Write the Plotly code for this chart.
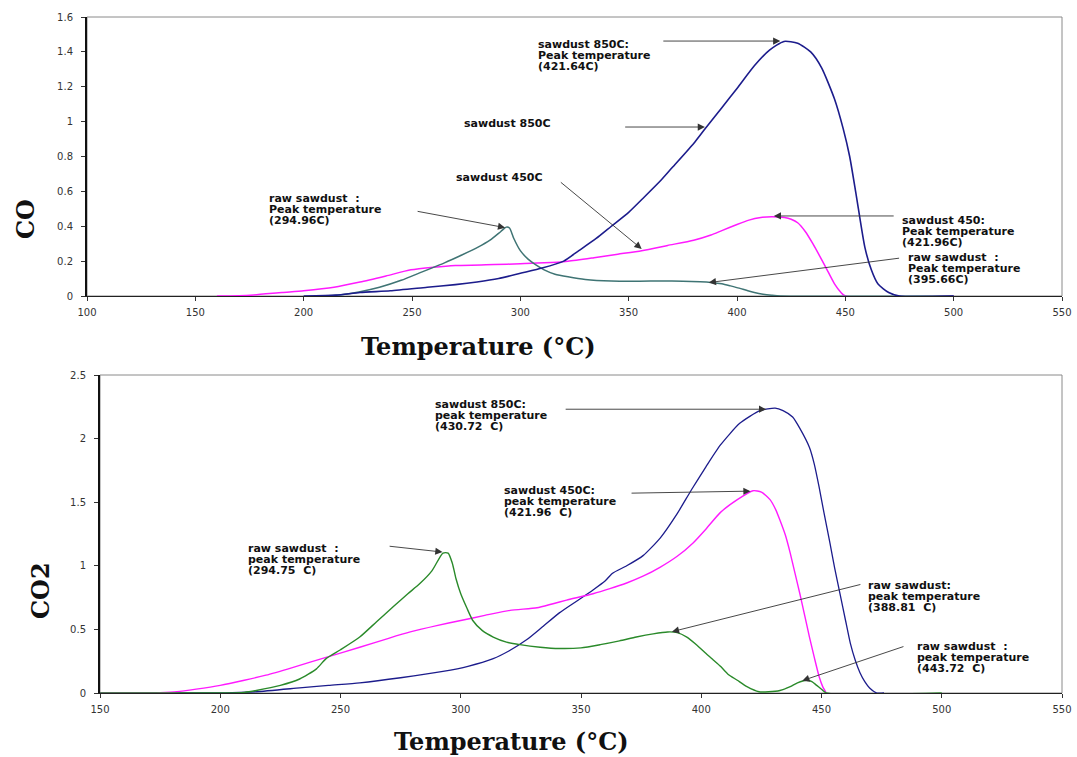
import plotly.graph_objects as go

# ---------------- data: CO (top panel) ----------------
co_850_T = [200, 215, 226, 240, 257, 270, 280, 290, 300, 310, 320, 327, 335, 342, 350, 357, 365, 370,
            380, 385, 393, 400, 408, 415, 421.64, 428, 434, 439, 445, 449, 452, 455, 459, 462, 465,
            470, 475, 500]
co_850_v = [0.0, 0.005, 0.02, 0.03, 0.05, 0.065, 0.08, 0.1, 0.13, 0.16, 0.2, 0.26, 0.33, 0.4, 0.48,
            0.565, 0.665, 0.735, 0.875, 0.955, 1.08, 1.19, 1.32, 1.41, 1.46, 1.45, 1.4, 1.31, 1.13, 0.96,
            0.8, 0.58, 0.28, 0.15, 0.07, 0.02, 0.0, 0.0]

co_450_T = [160, 170, 177, 190, 200, 214, 226, 238, 249.5, 260, 270, 288, 300, 311, 322, 334, 345,
            356, 368, 380, 388, 393, 400, 405.5, 411, 416, 421.96, 425, 428, 431.5, 435, 439, 442,
            445, 448, 450, 500]
co_450_v = [0.0, 0.002, 0.006, 0.02, 0.03, 0.05, 0.08, 0.115, 0.15, 0.165, 0.175, 0.18, 0.185, 0.19,
            0.2, 0.22, 0.24, 0.26, 0.29, 0.32, 0.35, 0.375, 0.41, 0.435, 0.45, 0.455, 0.45, 0.44, 0.42,
            0.37, 0.3, 0.21, 0.14, 0.07, 0.02, 0.0, 0.0]

co_raw_T = [205, 215, 226, 235, 245, 255, 265, 273, 280.5, 286, 291, 293.5, 295, 297, 300, 303.7, 307,
            311, 316, 322, 330, 342, 355, 365, 375, 383, 388, 393, 397, 401, 405, 408, 412, 416, 420,
            500]
co_raw_v = [0.0, 0.005, 0.025, 0.05, 0.09, 0.14, 0.19, 0.235, 0.28, 0.32, 0.37, 0.395, 0.39, 0.33,
            0.26, 0.21, 0.18, 0.15, 0.125, 0.11, 0.095, 0.086, 0.085, 0.086, 0.085, 0.082, 0.078,
            0.07, 0.058, 0.045, 0.03, 0.02, 0.01, 0.004, 0.0, 0.0]

# ---------------- data: CO2 (bottom panel) ----------------
co2_raw_T = [150, 200, 210, 215, 225, 233, 240, 244, 250, 258, 265, 272, 278, 283, 288, 292.6, 294.75,
             296.5, 298, 300, 302.5, 305, 309, 313.5, 319, 324.6, 333, 341, 350, 358, 366, 373, 380,
             386, 390, 394, 398, 402, 405, 408, 411, 415, 419, 424, 428, 432.7, 437, 440, 443.72,
             446, 448, 450, 452, 500]
co2_raw_v = [0.0, 0.0, 0.005, 0.02, 0.06, 0.11, 0.19, 0.27, 0.34, 0.44, 0.56, 0.68, 0.78, 0.86, 0.96,
             1.1, 1.1, 1.02, 0.9, 0.78, 0.67, 0.57, 0.49, 0.44, 0.4, 0.38, 0.36, 0.35, 0.355, 0.38,
             0.41, 0.44, 0.465, 0.48, 0.475, 0.44, 0.38, 0.31, 0.26, 0.21, 0.15, 0.1, 0.05, 0.01,
             0.01, 0.02, 0.05, 0.08, 0.1, 0.09, 0.06, 0.03, 0.0, 0.0]

co2_450_T = [150, 166.6, 175, 182, 190, 200, 210, 219, 230, 244, 258, 270, 279, 290, 300, 310, 320.5,
             331.7, 338, 344, 355, 362, 369, 376, 383, 390, 396.6, 402, 408, 415, 421.5, 425, 428.6,
             431, 432.7, 435, 437, 439, 441, 443, 445, 447, 449, 450.5, 452]
co2_450_v = [0.0, 0.0, 0.003, 0.01, 0.03, 0.06, 0.1, 0.14, 0.2, 0.28, 0.36, 0.43, 0.48, 0.53, 0.57,
             0.61, 0.65, 0.67, 0.7, 0.73, 0.78, 0.82, 0.865, 0.92, 0.99, 1.075, 1.18, 1.29, 1.42, 1.52,
             1.59, 1.58, 1.52, 1.44, 1.36, 1.24, 1.1, 0.94, 0.78, 0.61, 0.44, 0.28, 0.13, 0.05, 0.0]

co2_850_T = [150, 200, 205, 215, 233, 245, 258, 275, 292.6, 303, 313.5, 320, 327.5, 334, 341, 348, 355,
             360, 363, 369, 375.8, 383, 390, 396, 402, 408, 416, 424.4, 430.72, 434, 438, 441, 445,
             447, 449, 451, 453.5, 455.5, 457.7, 460, 462, 464, 466, 468, 470, 473, 476]
co2_850_v = [0.0, 0.0, 0.002, 0.01, 0.04, 0.06, 0.08, 0.12, 0.17, 0.21, 0.27, 0.33, 0.42, 0.52, 0.63,
             0.72, 0.81, 0.88, 0.94, 1.0, 1.08, 1.22, 1.41, 1.6, 1.78, 1.95, 2.12, 2.22, 2.24, 2.22,
             2.17, 2.08, 1.93, 1.8, 1.62, 1.42, 1.18, 0.98, 0.78, 0.57, 0.39, 0.26, 0.16, 0.09, 0.04,
             0.0, 0.0]

co_ticks = [0, 0.2, 0.4, 0.6, 0.8, 1, 1.2, 1.4, 1.6]
co2_ticks = [0, 0.5, 1, 1.5, 2, 2.5]
top_x_ticks = [100, 150, 200, 250, 300, 350, 400, 450, 500, 550]
bot_x_ticks = [150, 200, 250, 300, 350, 400, 450, 500, 550]

NAVY = "#1c1c8c"
MAGENTA = "#ff1aff"
TEAL = "#3f7474"
GREEN = "#2a8a2a"

W, H = 1077, 757


def line(color, width):
    return dict(color=color, width=width, shape="spline", smoothing=0.6)


fig = go.Figure()
fig.add_trace(go.Scatter(x=co_450_T, y=co_450_v, mode="lines", line=line(MAGENTA, 1.5),
                         xaxis="x", yaxis="y", showlegend=False))
fig.add_trace(go.Scatter(x=co_raw_T, y=co_raw_v, mode="lines", line=line(TEAL, 1.5),
                         xaxis="x", yaxis="y", showlegend=False))
fig.add_trace(go.Scatter(x=co_850_T, y=co_850_v, mode="lines", line=line(NAVY, 1.6),
                         xaxis="x", yaxis="y", showlegend=False))

fig.add_trace(go.Scatter(x=co2_850_T, y=co2_850_v, mode="lines", line=line(NAVY, 1.3),
                         xaxis="x2", yaxis="y2", showlegend=False))
fig.add_trace(go.Scatter(x=co2_450_T, y=co2_450_v, mode="lines", line=line(MAGENTA, 1.4),
                         xaxis="x2", yaxis="y2", showlegend=False))
fig.add_trace(go.Scatter(x=co2_raw_T, y=co2_raw_v, mode="lines", line=line(GREEN, 1.4),
                         xaxis="x2", yaxis="y2", showlegend=False))

tickfont = dict(family="DejaVu Sans, Arial, sans-serif", size=10, color="#333333")


def xaxis_cfg(domain, rng, ticks, anchor):
    return dict(domain=domain, range=rng, tickvals=ticks, ticks="outside", ticklen=4, tickcolor="#333",
                showgrid=False, zeroline=False, showline=True, linecolor="#222", linewidth=1.2,
                tickfont=tickfont, anchor=anchor, ticklabelstandoff=3, automargin=False)


def yaxis_cfg(domain, rng, ticks, anchor):
    return dict(domain=domain, range=rng, tickvals=ticks, ticks="outside", ticklen=4, tickcolor="#333",
                showgrid=False, zeroline=False, showline=True, linecolor="#111", linewidth=2,
                tickfont=tickfont, anchor=anchor, ticklabelstandoff=6, automargin=False)


fig.update_layout(
    width=W, height=H, autosize=False,
    margin=dict(l=0, r=0, t=0, b=0, pad=0),
    paper_bgcolor="white", plot_bgcolor="white",
    xaxis=xaxis_cfg([87 / W, 1062 / W], [100, 550], top_x_ticks, "y"),
    yaxis=yaxis_cfg([1 - 296 / H, 1 - 17 / H], [0, 1.6], co_ticks, "x"),
    xaxis2=xaxis_cfg([100 / W, 1062 / W], [150, 550], bot_x_ticks, "y2"),
    yaxis2=yaxis_cfg([1 - 693 / H, 1 - 375 / H], [0, 2.5], co2_ticks, "x2"),
)

# plot-area frames (gray top/right border)
for xr, yr in (("x domain", "y domain"), ("x2 domain", "y2 domain")):
    fig.add_shape(type="rect", xref=xr, yref=yr, x0=0, x1=1, y0=0, y1=1,
                  line=dict(color="#8a8a8a", width=1), layer="below")

annfont = dict(family="DejaVu Sans, Arial, sans-serif", size=11, color="#111111", weight="bold")

# text blocks: (axis, x, y of first line middle, lines)
text_blocks = [
    ("", 307.4, 1.445, ["sawdust 850C:", "Peak temperature", "(421.64C)"]),
    ("", 273.1, 0.992, ["sawdust 850C"]),
    ("", 269.4, 0.677, ["sawdust 450C"]),
    ("", 183.3, 0.56, ["raw sawdust  :", "Peak temperature", "(294.96C)"]),
    ("", 475.0, 0.435, ["sawdust 450:", "Peak temperature", "(421.96C)"]),
    ("", 478.2, 0.22, ["raw sawdust  :", "Peak temperature", "(395.66C)"]),
    ("2", 288.5, 2.265, ["sawdust 850C:", "peak temperature", "(430.72  C)"]),
    ("2", 317.2, 1.59, ["sawdust 450C:", "peak temperature", "(421.96  C)"]),
    ("2", 210.7, 1.133, ["raw sawdust  :", "peak temperature", "(294.75  C)"]),
    ("2", 468.5, 0.845, ["raw sawdust:", "peak temperature", "(388.81  C)"]),
    ("2", 488.9, 0.365, ["raw sawdust  :", "peak temperature", "(443.72  C)"]),
]
for ax, x, y, lines in text_blocks:
    for i, txt in enumerate(lines):
        fig.add_annotation(xref="x" + ax, yref="y" + ax, x=x, y=y, text=txt, showarrow=False,
                           xanchor="left", yanchor="middle", yshift=-11 * i, font=annfont)

# arrows: (axis, tail x, tail y, head x, head y)
arrows = [
    ("", 365.3, 1.462, 420.0, 1.462),
    ("", 347.7, 0.969, 385.2, 0.969),
    ("", 318.0, 0.659, 356.0, 0.27),
    ("", 251.9, 0.487, 293.0, 0.392),
    ("", 473.0, 0.459, 417.0, 0.459),
    ("", 475.5, 0.218, 387.0, 0.077),
    ("2", 343.0, 2.231, 427.0, 2.231),
    ("2", 370.4, 1.571, 420.5, 1.587),
    ("2", 269.8, 1.155, 292.4, 1.108),
    ("2", 466.8, 0.856, 387.8, 0.482),
    ("2", 484.7, 0.369, 442.0, 0.097),
]
for ax, tx, ty, hx, hy in arrows:
    fig.add_annotation(xref="x" + ax, yref="y" + ax, axref="x" + ax, ayref="y" + ax,
                       x=hx, y=hy, ax=tx, ay=ty, text="", showarrow=True,
                       arrowhead=2, arrowsize=1.6, arrowwidth=0.9, arrowcolor="#333333", standoff=0)

titlefont = dict(family="DejaVu Serif, Liberation Serif, serif", size=24, color="#111111", weight="bold")
fig.add_annotation(xref="paper", yref="paper", x=478 / W, y=1 - 346 / H, text="Temperature (°C)",
                   showarrow=False, xanchor="center", yanchor="middle", font=titlefont)
fig.add_annotation(xref="paper", yref="paper", x=511 / W, y=1 - 741 / H, text="Temperature (°C)",
                   showarrow=False, xanchor="center", yanchor="middle", font=titlefont)
fig.add_annotation(xref="paper", yref="paper", x=25 / W, y=1 - 219 / H, text="CO", textangle=-90,
                   showarrow=False, xanchor="center", yanchor="middle", font=titlefont)
fig.add_annotation(xref="paper", yref="paper", x=40 / W, y=1 - 590 / H, text="CO2", textangle=-90,
                   showarrow=False, xanchor="center", yanchor="middle", font=titlefont)

fig.write_html("out.html", config={"displayModeBar": False},
               post_script="document.body.style.margin='0';document.body.style.overflow='hidden';")
